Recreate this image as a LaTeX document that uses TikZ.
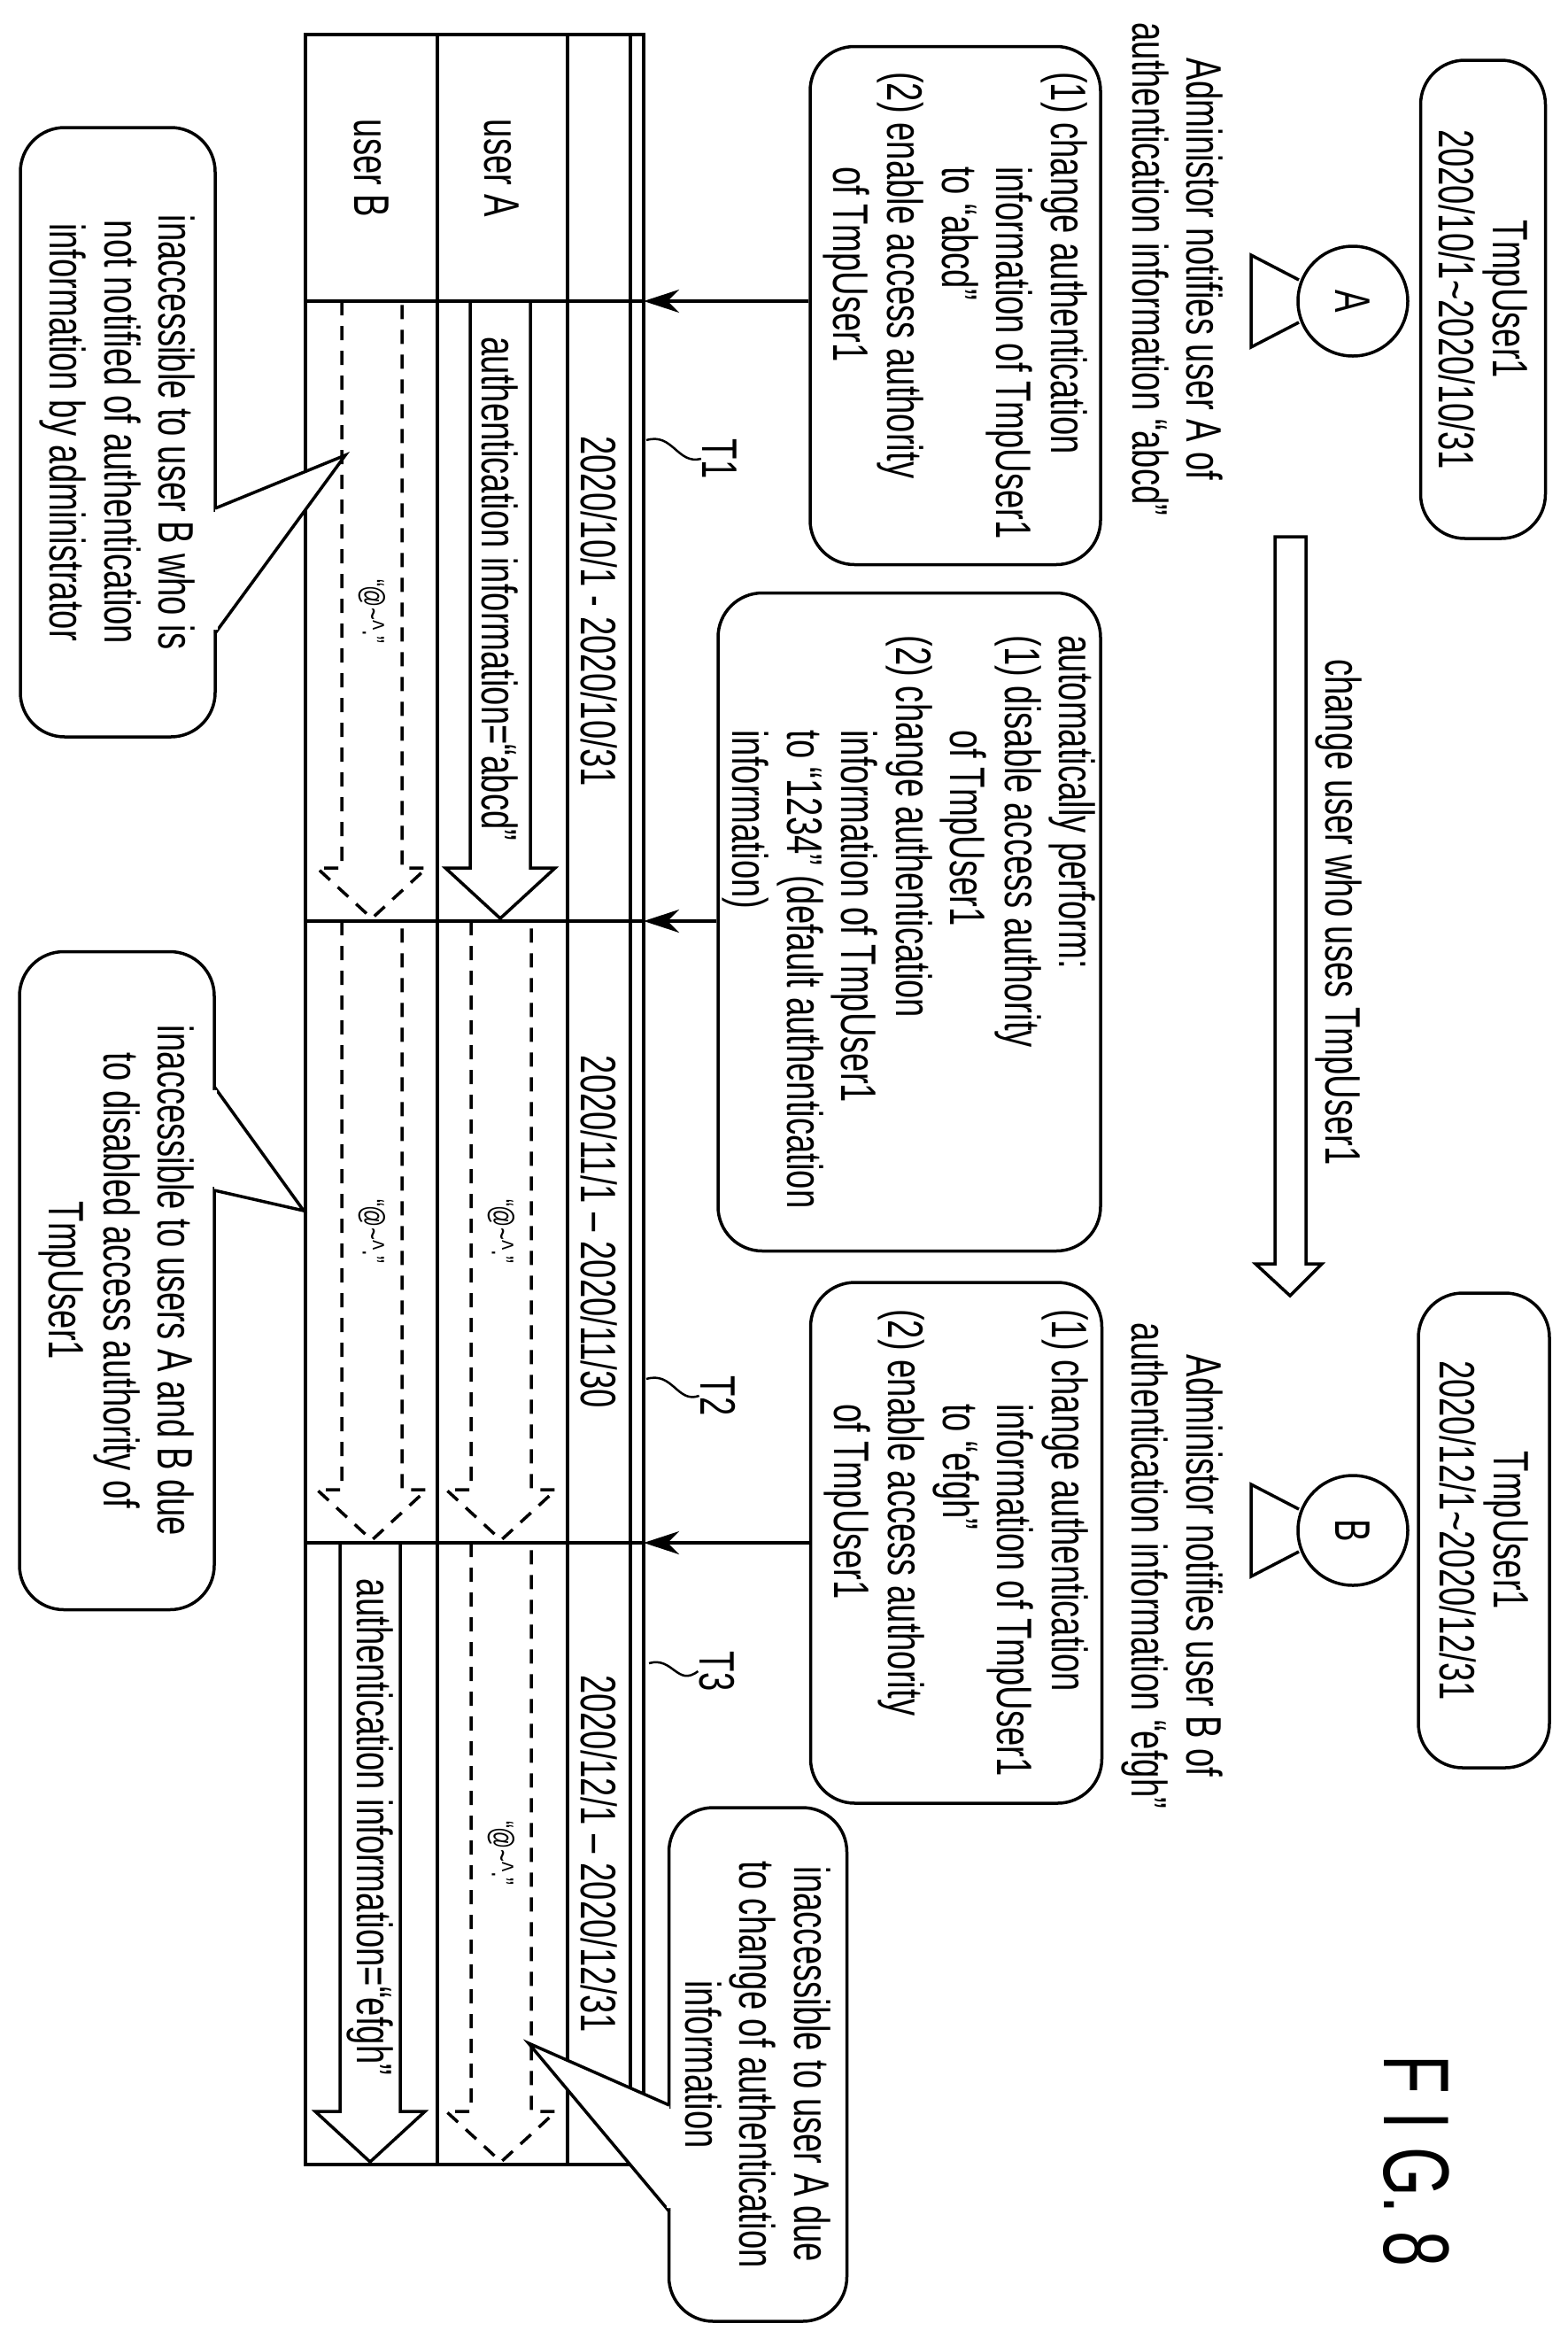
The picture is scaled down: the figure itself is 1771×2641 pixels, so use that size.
\documentclass[tikz,border=0pt]{standalone}
\usepackage{fontspec}
\setmainfont{Liberation Sans}[FakeStretch=0.68]
\usetikzlibrary{arrows.meta,positioning}
% hollow period arrow: [style] centre x, start y, tip y
\newcommand{\periodarrow}[4][]{%
  \draw[#1] ({#2-34},#3) -- ({#2-34},{#4-57}) -- ({#2-62},{#4-57}) -- (#2,#4)
    -- ({#2+62},{#4-57}) -- ({#2+34},{#4-57}) -- ({#2+34},#3);}
\begin{document}
\begin{tikzpicture}[x=0.1mm,y=-0.1mm,line width=0.35mm,>={Stealth[length=4mm,width=2.6mm]}]
  \tikzstyle{memo}=[draw,rounded corners=5mm,rotate=-90,align=left,inner sep=0pt,font=\fontsize{16}{17.5}\selectfont]
  \tikzstyle{note}=[memo,align=center,fill=white]
  \tikzstyle{plain}=[rotate=-90,align=center,inner sep=0pt,font=\fontsize{16}{17.5}\selectfont]
  \tikzstyle{small}=[rotate=-90,inner sep=0pt,font=\fontsize{10}{11}\selectfont]
  \tikzstyle{nouse}=[dash pattern=on 1.6mm off 1.2mm]
  \useasboundingbox (0,0) rectangle (1771,2641);

  % Period boxes and users.
  \node [memo,align=center,minimum width=54mm,minimum height=14.1mm] (use1) at (1675,338) {TmpUser1\\2020/10/1\textasciitilde2020/10/31};
  \node [memo,align=center,minimum width=53.6mm,minimum height=14.8mm] (use2) at (1676,1728) {TmpUser1\\2020/12/1\textasciitilde2020/12/31};
  \foreach \who/\yc in {A/340,B/1728}{
    \draw (1467,\yc-24) -- (1413,\yc-52) -- (1413,\yc+52) -- (1467,\yc+24);
    \node [draw,circle,minimum size=12.4mm,rotate=-90,font=\fontsize{16}{17}\selectfont] (head\who) at (1528,\yc) {\who};
  }
  \node [plain] (adminA) at (1330,304) {Administor notifies user A of\\authentication information “abcd”};
  \node [plain] (adminB) at (1324,1768) {Administor notifies user B of\\authentication information “efgh”};

  % Change of user.
  \draw (1440,606) -- (1440,1427) -- (1418,1427) -- (1457,1463) -- (1493,1427) -- (1475,1427) -- (1475,606) -- cycle;
  \node [plain] (change) at (1512,1030) {change user who uses TmpUser1};

  % Settings.
  \node [memo,minimum width=58.5mm,minimum height=32.8mm] (setA) at (1079,345)
    {(1) change authentication\\\hspace{1.9em}information of TmpUser1\\\hspace{1.9em}to “abcd”\\(2) enable access authority\\\hspace{1.9em}of TmpUser1};
  \node [memo,minimum width=74.3mm,minimum height=43.2mm] (auto) at (1027,1041)
    {automatically perform:\\(1) disable access authority\\\hspace{1.9em}of TmpUser1\\(2) change authentication\\\hspace{1.9em}information of TmpUser1\\\hspace{1.9em}to “1234” (default authentication\\\hspace{1.9em}information)};
  \node [memo,minimum width=58.8mm,minimum height=32.9mm] (setB) at (1080,1742)
    {(1) change authentication\\\hspace{1.9em}information of TmpUser1\\\hspace{1.9em}to “efgh”\\(2) enable access authority\\\hspace{1.9em}of TmpUser1};

  % Table.
  \draw (345,39) rectangle (727,2444);
  \draw (712,39) -- (712,2444);
  \draw (494,39) -- (494,2444);
  \draw (641,39) -- (641,2444);
  \foreach \yb in {340,1040,1742} \draw (345,\yb) -- (727,\yb);
  \node [plain] (userA) at (567,190) {user A};
  \node [plain] (userB) at (420,190) {user B};
  \node [plain] (date1) at (677,690) {2020/10/1 - 2020/10/31};
  \node [plain] (date2) at (677,1391) {2020/11/1 – 2020/11/30};
  \node [plain] (date3) at (677,2093) {2020/12/1 – 2020/12/31};
  \coordinate (t1) at (727,340);
  \coordinate (t2) at (727,1040);
  \coordinate (t3) at (727,1742);
  \draw [->] (setA.south |- t1) -- (t1);
  \draw [->] (auto.south |- t2) -- (t2);
  \draw [->] (setB.south |- t3) -- (t3);

  % Time marks.
  \node [plain] (T1) at (813,518) {T1};
  \node [plain] (T2) at (811,1576) {T2};
  \node [plain] (T3) at (810,1887) {T3};
  \draw [line width=0.25mm] (730,497) .. controls (760,488) and (765,525) .. (T1.south);
  \draw [line width=0.25mm] (730,1557) .. controls (760,1548) and (765,1585) .. (T2.south);
  \draw [line width=0.25mm] (733,1878) .. controls (760,1870) and (765,1905) .. (T3.south);

  % Access in each period.
  \periodarrow{565}{340}{1037}
  \periodarrow{418}{1742}{2441}
  \periodarrow[nouse]{420}{340}{1037}
  \periodarrow[nouse]{420}{1040}{1739}
  \periodarrow[nouse]{566}{1040}{1739}
  \periodarrow[nouse]{566}{1742}{2441}
  \node [plain] (authA) at (565,665) {authentication information=“abcd”};
  \node [plain] (authB) at (418,2063) {authentication information=“efgh”};
  \node [small] (failB1) at (420,690) {“@\textasciitilde\textasciicircum.”};
  \node [small] (failB2) at (420,1390) {“@\textasciitilde\textasciicircum.”};
  \node [small] (failA2) at (566,1390) {“@\textasciitilde\textasciicircum.”};
  \node [small] (failA3) at (566,2092) {“@\textasciitilde\textasciicircum.”};

  % Remarks.
  \node [note,minimum width=68.8mm,minimum height=22mm] (noteB) at (133,488)
    {inaccessible to user B who is\\not notified of authentication\\information by administrator};
  \draw [fill=white] (243,574) -- (390,514) -- (243,715);
  \draw [white,line width=0.6mm] (243,578) -- (243,711);
  \node [note,minimum width=74.3mm,minimum height=22mm] (noteAB) at (132,1446)
    {inaccessible to users A and B due\\to disabled access authority of\\TmpUser1};
  \draw [fill=white] (242,1227) -- (343,1367) -- (242,1344);
  \draw [white,line width=0.6mm] (242,1231) -- (242,1340);
  \node [note,minimum width=58mm,minimum height=20.1mm] (noteA) at (856,2331)
    {inaccessible to user A due\\to change of authentication\\information};
  \draw [fill=white] (756,2377) -- (597,2307) -- (756,2497);
  \draw [white,line width=0.6mm] (756,2381) -- (756,2493);

  \node [rotate=-90,font=\fontsize{30}{30}\selectfont] (fig) at (1600,2440) {F I G. 8};
\end{tikzpicture}
\end{document}
